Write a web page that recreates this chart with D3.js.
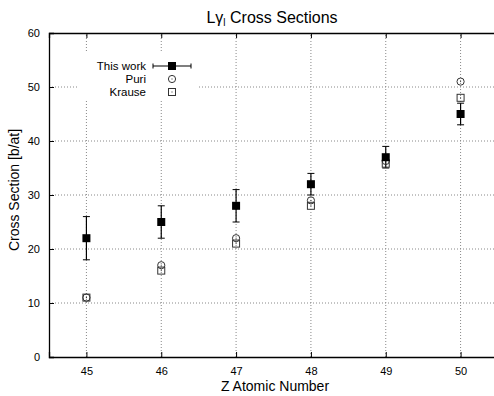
<!DOCTYPE html>
<html>
<head>
<meta charset="utf-8">
<script src="https://cdn.jsdelivr.net/npm/d3@7"></script>
<style>
  body { margin: 0; background: #fff; }
  svg { font-family: "Liberation Sans", Arial, sans-serif; }
</style>
</head>
<body>
<div id="chart"></div>
<script>
// data
var zValues = [45, 46, 47, 48, 49, 50];
var thisWork = [22, 25, 28, 32, 37, 45];
var thisWorkLow = [18, 22, 25, 30, 35, 43];
var thisWorkHigh = [26, 28, 31, 34, 39, 47];
var puri = [11, 17, 22, 29, 36.3, 51];
var krause = [11, 16, 21, 28, 35.8, 48];
var xTicks = [45, 46, 47, 48, 49, 50];
var yTicks = [0, 10, 20, 30, 40, 50, 60];

var W = 494, H = 396;
var margin = {left: 49, right: -4, top: 33, bottom: 39};

var svg = d3.select('#chart').append('svg')
    .attr('width', W).attr('height', H);

var x = d3.scaleLinear().domain([44.5, 50.5]).range([margin.left, W - margin.right]);
var y = d3.scaleLinear().domain([0, 60]).range([H - margin.bottom, margin.top]);

// grid
var grid = svg.append('g');
grid.selectAll('.gx').data(xTicks).enter().append('line')
    .attr('x1', function(d){return x(d)}).attr('x2', function(d){return x(d)})
    .attr('y1', y(0)).attr('y2', y(60))
    .attr('stroke', '#888').attr('stroke-width', 1).attr('stroke-dasharray', '1,2');
grid.selectAll('.gy').data(yTicks.slice(1, -1)).enter().append('line')
    .attr('y1', function(d){return y(d)}).attr('y2', function(d){return y(d)})
    .attr('x1', x(44.5)).attr('x2', x(50.5))
    .attr('stroke', '#888').attr('stroke-width', 1).attr('stroke-dasharray', '1,2');

// legend background hides the grid
svg.append('rect').attr('x', 77).attr('y', 53).attr('width', 121).attr('height', 46)
    .attr('fill', '#fff');

// axes (inward ticks, mirrored)
var xAxis = svg.append('g').attr('transform', 'translate(0,' + y(0) + ')')
    .call(d3.axisBottom(x).tickValues(xTicks).tickFormat(d3.format('d')).tickSize(-5).tickPadding(10));
var xAxisTop = svg.append('g').attr('transform', 'translate(0,' + y(60) + ')')
    .call(d3.axisTop(x).tickValues(xTicks).tickSize(-5).tickFormat(''));
var yAxis = svg.append('g').attr('transform', 'translate(' + x(44.5) + ',0)')
    .call(d3.axisLeft(y).tickValues(yTicks).tickFormat(d3.format('d')).tickSize(-5).tickPadding(9));
[xAxis, xAxisTop, yAxis].forEach(function(a){
    a.select('.domain').attr('stroke', '#000').attr('stroke-width', 1.3);
    a.selectAll('.tick line').attr('stroke', '#000');
    a.selectAll('text').attr('font-size', 11).attr('font-family', '"Liberation Sans", Arial, sans-serif').attr('fill', '#000');
});

// error bars
var eb = svg.append('g');
zValues.forEach(function(z, i){
    var cx = x(z);
    eb.append('line').attr('x1', cx).attr('x2', cx)
        .attr('y1', y(thisWorkLow[i])).attr('y2', y(thisWorkHigh[i]))
        .attr('stroke', '#000').attr('stroke-width', 1.2);
    [thisWorkLow[i], thisWorkHigh[i]].forEach(function(v){
        eb.append('line').attr('x1', cx - 3.5).attr('x2', cx + 3.5)
            .attr('y1', y(v)).attr('y2', y(v))
            .attr('stroke', '#000').attr('stroke-width', 1);
    });
});

function openSquare(g, cx, cy){
    g.append('rect').attr('x', cx - 3.5).attr('y', cy - 3.5).attr('width', 7).attr('height', 7)
        .attr('fill', 'none').attr('stroke', '#333').attr('stroke-width', 1);
    g.append('rect').attr('x', cx - 0.5).attr('y', cy - 0.5).attr('width', 1).attr('height', 1).attr('fill', '#333');
}
function openCircle(g, cx, cy){
    g.append('circle').attr('cx', cx).attr('cy', cy).attr('r', 3.6)
        .attr('fill', 'none').attr('stroke', '#333').attr('stroke-width', 1);
    g.append('rect').attr('x', cx - 0.5).attr('y', cy - 0.5).attr('width', 1).attr('height', 1).attr('fill', '#333');
}

var marks = svg.append('g');
zValues.forEach(function(z, i){ openCircle(marks, x(z), y(puri[i])); });
zValues.forEach(function(z, i){ openSquare(marks, x(z), y(krause[i])); });
marks.selectAll('.tw').data(zValues).enter().append('rect')
    .attr('x', function(d){return x(d) - 4}).attr('y', function(d, i){return y(thisWork[i]) - 4})
    .attr('width', 8).attr('height', 8).attr('fill', '#000');

// legend
var lg = svg.append('g').attr('font-size', 11.5);
var legendRows = ['This work', 'Puri', 'Krause'];
lg.selectAll('text').data(legendRows).enter().append('text')
    .attr('x', 146).attr('y', function(d, i){return 70 + i * 13})
    .attr('text-anchor', 'end').text(function(d){return d});
lg.append('line').attr('x1', 153).attr('x2', 191).attr('y1', 66).attr('y2', 66).attr('stroke', '#000').attr('stroke-width', 1.2);
lg.append('line').attr('x1', 153).attr('x2', 153).attr('y1', 63.5).attr('y2', 68.5).attr('stroke', '#000');
lg.append('line').attr('x1', 191).attr('x2', 191).attr('y1', 63.5).attr('y2', 68.5).attr('stroke', '#000');
lg.append('rect').attr('x', 168).attr('y', 62).attr('width', 8).attr('height', 8).attr('fill', '#000');
openCircle(lg, 172, 79);
openSquare(lg, 172, 92);

// titles
var title = svg.append('text').attr('x', 272).attr('y', 23).attr('text-anchor', 'middle')
    .attr('font-size', 16);
title.append('tspan').text('L\u03b3');
title.append('tspan').attr('font-size', 10).attr('dy', 3).text('l');
title.append('tspan').attr('dy', -3).text(' Cross Sections');

svg.append('text').attr('x', 275).attr('y', 391).attr('text-anchor', 'middle')
    .attr('font-size', 14).text('Z Atomic Number');
svg.append('text').attr('transform', 'translate(19,' + 190 + ') rotate(-90)')
    .attr('text-anchor', 'middle').attr('font-size', 14).text('Cross Section [b/at]');
</script>
</body>
</html>
